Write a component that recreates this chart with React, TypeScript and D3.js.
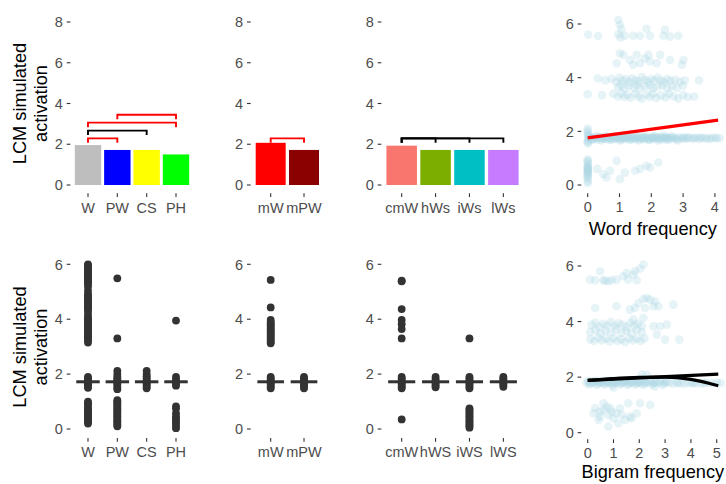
import React from 'react';
import * as d3 from 'd3';

// ---------------- DATA ----------------
// Top row: bar panels
const catsA = ['W', 'PW', 'CS', 'PH'];
const barsA = [1.96, 1.72, 1.72, 1.5];
const colorsA = ['#BEBEBE', '#0000FF', '#FFFF00', '#00FF00'];
const catsB = ['mW', 'mPW'];
const barsB = [2.07, 1.72];
const colorsB = ['#FF0000', '#8B0000'];
const catsC = ['cmW', 'hWs', 'iWs', 'lWs'];
const barsC = [1.93, 1.72, 1.72, 1.72];
const colorsC = ['#F8766D', '#7CAE00', '#00BFC4', '#C77CFF'];
const catsCBottom = ['cmW', 'hWS', 'iWS', 'lWS'];

// significance brackets: [from, to, height, colour]
const bracketsA: [string, string, number, string][] = [
  ['W', 'PW', 2.29, '#FF0000'],
  ['W', 'CS', 2.67, '#000000'],
  ['W', 'PH', 3.06, '#FF0000'],
  ['PW', 'PH', 3.45, '#FF0000'],
];
const bracketsB: [string, string, number, string][] = [['mW', 'mPW', 2.29, '#FF0000']];
const bracketsC: [string, string, number, string][] = [
  ['cmW', 'hWs', 2.29, '#000000'],
  ['cmW', 'iWs', 2.29, '#000000'],
  ['cmW', 'lWs', 2.29, '#000000'],
];

// Bottom row: strip panels (simulated activation per item)
const stripW = [6.0, 5.95, 5.9, 5.84, 5.78, 5.72, 5.66, 5.6, 5.55, 5.5, 5.45, 5.4, 5.35, 5.3, 5.2, 5.05, 4.92, 4.85, 4.8, 4.74, 4.68, 4.62, 4.56, 4.5, 4.45, 4.38, 4.32, 4.2, 4.08, 4.02, 3.96, 3.9, 3.85, 3.8, 3.74, 3.68, 3.62, 3.56, 3.5, 3.45, 3.4, 3.34, 3.28, 3.22, 3.15, 1.9, 1.84, 1.78, 1.72, 1.66, 1.6, 1.55, 1.5, 1.0, 0.94, 0.88, 0.8, 0.72, 0.66, 0.6, 0.55, 0.5, 0.44, 0.38, 0.32, 0.26, 0.2];
const stripPW = [5.49, 3.3, 2.12, 2.0, 1.9, 1.84, 1.78, 1.72, 1.66, 1.6, 1.52, 1.45, 1.05, 1.0, 0.94, 0.88, 0.82, 0.76, 0.7, 0.64, 0.58, 0.52, 0.46, 0.4, 0.34, 0.28, 0.22, 0.16, 0.1];
const stripCS = [2.12, 2.0, 1.92, 1.85, 1.78, 1.72, 1.66, 1.6, 1.54, 1.48];
const stripPH = [3.95, 1.9, 1.8, 1.72, 1.65, 1.58, 0.82, 0.75, 0.57, 0.45, 0.38, 0.3, 0.21, 0.12, 0.03];
const stripMW = [5.43, 4.43, 3.97, 3.9, 3.84, 3.78, 3.72, 3.66, 3.6, 3.54, 3.48, 3.42, 3.36, 3.3, 3.24, 3.18, 3.12, 1.9, 1.84, 1.78, 1.72, 1.66, 1.6, 1.54, 1.48];
const stripMPW = [1.9, 1.84, 1.78, 1.72, 1.66, 1.6, 1.54, 1.48];
const stripCMW = [5.4, 5.38, 4.37, 3.97, 3.82, 3.64, 3.3, 1.9, 1.84, 1.78, 1.72, 1.66, 1.6, 1.54, 1.48, 0.35];
const stripHWS = [1.9, 1.82, 1.75, 1.7, 1.64, 1.58, 1.52];
const stripIWS = [3.3, 1.9, 1.84, 1.78, 1.72, 1.66, 1.6, 1.54, 1.48, 0.75, 0.7, 0.64, 0.58, 0.52, 0.46, 0.4, 0.34, 0.28, 0.22, 0.16, 0.1, 0.05];
const stripLWS = [1.9, 1.84, 1.78, 1.72, 1.66, 1.6, 1.54];
const summaryA = [1.72, 1.72, 1.72, 1.72];
const summaryB = [1.72, 1.72];
const summaryC = [1.72, 1.72, 1.72, 1.72];

// Top-right: activation vs word frequency
const wordFreqPoints: [number, number][] = [
  // dense band
  [0.02, 1.72], [0.05, 1.8], [0.1, 1.75], [0.15, 1.7], [0.2, 1.78], [0.25, 1.74], [0.3, 1.7], [0.35, 1.8], [0.4, 1.76], [0.45, 1.72],
  [0.5, 1.79], [0.55, 1.74], [0.6, 1.7], [0.65, 1.78], [0.7, 1.75], [0.75, 1.71], [0.8, 1.8], [0.85, 1.76], [0.9, 1.72], [0.95, 1.78],
  [1.0, 1.74], [1.05, 1.7], [1.1, 1.79], [1.15, 1.75], [1.2, 1.72], [1.25, 1.8], [1.3, 1.76], [1.35, 1.71], [1.4, 1.78], [1.45, 1.74],
  [1.5, 1.7], [1.55, 1.79], [1.6, 1.75], [1.65, 1.72], [1.7, 1.8], [1.75, 1.76], [1.8, 1.71], [1.85, 1.78], [1.9, 1.74], [1.95, 1.7],
  [2.0, 1.79], [2.05, 1.75], [2.1, 1.72], [2.15, 1.8], [2.2, 1.76], [2.25, 1.71], [2.3, 1.78], [2.35, 1.74], [2.4, 1.7], [2.45, 1.79],
  [2.5, 1.75], [2.55, 1.72], [2.6, 1.8], [2.7, 1.74], [2.8, 1.71], [2.9, 1.78], [3.0, 1.74], [3.1, 1.72], [3.2, 1.77], [3.3, 1.73],
  [3.4, 1.76], [3.5, 1.72], [3.6, 1.75], [3.75, 1.73], [3.9, 1.76], [4.05, 1.73], [4.15, 1.75],
  [0.12, 1.68], [0.42, 1.66], [0.72, 1.68], [1.02, 1.66], [1.32, 1.68], [1.62, 1.66], [1.92, 1.68], [2.22, 1.66], [2.52, 1.68], [2.82, 1.66],
  [0.27, 1.82], [0.57, 1.83], [0.87, 1.82], [1.17, 1.83], [1.47, 1.82], [1.77, 1.83], [2.07, 1.82], [2.37, 1.83], [2.67, 1.8], [3.05, 1.78],
  [0.07, 1.76], [0.22, 1.73], [0.37, 1.77], [0.52, 1.73], [0.67, 1.76], [0.82, 1.73], [0.97, 1.76], [1.12, 1.73], [1.27, 1.77], [1.42, 1.73],
  [1.57, 1.76], [1.72, 1.73], [1.87, 1.76], [2.02, 1.73], [2.17, 1.77], [2.32, 1.73], [2.47, 1.76], [2.62, 1.73], [2.77, 1.76], [2.95, 1.73],
  [3.15, 1.76], [3.35, 1.74], [3.55, 1.77], [3.7, 1.75], [3.85, 1.72], [4.0, 1.76],
  // zero-frequency strip
  [0, 2.1], [0, 1.95], [0.01, 1.88], [0, 1.6], [0.01, 1.55], [0, 0.95], [0, 0.85], [0.01, 0.78], [0, 0.7], [0, 0.65],
  [0.01, 0.6], [0, 0.55], [0, 0.5], [0.01, 0.45], [0, 0.4], [0, 0.32], [0, 0.25], [0.01, 0.15], [0, 0.08],
  [0, 2.02], [0.01, 1.82], [0, 1.66], [0, 0.9], [0.01, 0.68], [0, 0.58], [0.01, 0.52], [0, 0.36],
  // low cluster
  [0.3, 0.6], [0.49, 0.4], [0.7, 0.53], [0.91, 0.9], [1.01, 0.22], [1.17, 0.46], [1.49, 0.53], [1.65, 0.6], [1.85, 0.72], [1.96, 0.65],
  [2.22, 0.84], [0.59, 0.28],
  // main upper cluster
  [0.32, 3.97], [0.55, 3.9], [0.75, 3.96], [0.9, 3.85], [1.0, 4.0], [1.1, 3.88], [1.2, 3.95], [1.3, 3.84], [1.4, 3.98], [1.5, 3.9],
  [1.6, 3.86], [1.7, 4.02], [1.8, 3.92], [1.9, 3.85], [2.0, 3.96], [2.1, 3.88], [2.2, 4.0], [2.3, 3.9], [2.4, 3.84], [2.5, 3.95],
  [2.6, 3.88], [2.75, 3.92], [2.9, 3.85], [3.05, 3.9], [3.5, 3.9],
  [0.95, 3.65], [1.05, 3.72], [1.15, 3.6], [1.3, 3.7], [1.45, 3.62], [1.55, 3.74], [1.65, 3.6], [1.8, 3.68], [1.95, 3.72], [2.05, 3.6],
  [2.2, 3.66], [2.35, 3.72], [2.5, 3.6], [2.65, 3.68], [2.8, 3.62], [3.0, 3.7],
  [0.0, 3.38], [0.45, 3.35], [0.8, 3.4], [0.95, 3.3], [1.05, 3.42], [1.15, 3.28], [1.25, 3.36], [1.35, 3.25], [1.5, 3.4], [1.6, 3.3],
  [1.7, 3.22], [1.85, 3.38], [1.95, 3.28], [2.05, 3.4], [2.15, 3.24], [2.3, 3.34], [2.45, 3.26], [2.55, 3.4], [2.7, 3.3], [2.85, 3.22],
  [3.0, 3.36], [3.15, 3.28], [3.35, 3.3],
  // 4.2 - 5 cluster
  [1.01, 4.91], [1.12, 4.85], [0.91, 4.54], [1.33, 4.66], [1.54, 4.85], [1.64, 4.54], [1.8, 4.72], [1.91, 4.85], [1.96, 4.6], [2.17, 4.54],
  [2.28, 4.85], [2.59, 4.66], [3.01, 4.66], [2.96, 4.48], [1.43, 4.48],
  // top cluster
  [0.02, 5.6], [0.33, 5.55], [0.96, 6.15], [1.01, 5.97], [1.06, 5.81], [0.96, 5.62], [1.17, 5.56], [1.43, 5.56], [1.64, 5.56], [1.85, 5.82],
  [1.96, 5.56], [2.43, 5.78], [2.38, 5.56], [2.59, 5.53], [2.85, 5.56], [1.03, 5.5],
];
const wordFit: [number, number][] = [[0, 1.76], [4.1, 2.42]];

// Bottom-right: activation vs bigram frequency
const bigramPoints: [number, number][] = [
  // dense band
  [-0.05, 1.8], [0.02, 1.86], [0.1, 1.78], [0.18, 1.84], [0.25, 1.8], [0.32, 1.88], [0.4, 1.78], [0.48, 1.84], [0.55, 1.8], [0.62, 1.87],
  [0.7, 1.77], [0.78, 1.83], [0.85, 1.8], [0.92, 1.88], [1.0, 1.78], [1.08, 1.84], [1.15, 1.8], [1.22, 1.87], [1.3, 1.77], [1.38, 1.83],
  [1.45, 1.8], [1.52, 1.88], [1.6, 1.78], [1.68, 1.84], [1.75, 1.8], [1.82, 1.87], [1.9, 1.77], [1.98, 1.83], [2.05, 1.8], [2.12, 1.88],
  [2.2, 1.78], [2.28, 1.84], [2.35, 1.8], [2.45, 1.86], [2.55, 1.78], [2.65, 1.83], [2.75, 1.8], [2.85, 1.86], [2.95, 1.78], [3.05, 1.84],
  [3.15, 1.8], [3.3, 1.76], [3.45, 1.82], [3.6, 1.78], [3.75, 1.76], [3.9, 1.8], [4.05, 1.77], [4.2, 1.78], [4.4, 1.76], [4.6, 1.8],
  [4.8, 1.78], [5.0, 1.8], [5.15, 1.79],
  [0.05, 1.74], [0.35, 1.72], [0.65, 1.74], [0.95, 1.72], [1.25, 1.74], [1.55, 1.72], [1.85, 1.74], [2.15, 1.72], [2.5, 1.74], [2.9, 1.72],
  [0.14, 1.81], [0.44, 1.8], [0.74, 1.82], [1.04, 1.8], [1.34, 1.82], [1.64, 1.8], [1.94, 1.82], [2.24, 1.8], [2.6, 1.82], [3.0, 1.8],
  [3.5, 1.79], [4.1, 1.81], [4.5, 1.79],
  [2.1, 2.1], [2.3, 2.08], [1.0, 1.62], [2.6, 1.66],
  // low cluster
  [0.29, 0.88], [0.48, 0.76], [0.61, 0.82], [0.74, 0.94], [0.93, 0.76], [0.48, 0.58], [0.8, 0.64], [1.12, 0.7], [1.32, 0.64], [1.57, 1.06],
  [1.64, 0.58], [1.7, 0.52], [1.9, 0.7], [2.03, 1.06], [2.42, 1.0], [0.8, 0.22], [1.19, 0.34], [1.45, 0.46], [0.42, 0.46], [1.0, 0.52],
  [0.61, 1.06], [1.25, 0.88], [0.22, 0.7], [0.87, 0.88],
  // main cluster
  [0.15, 3.88], [0.3, 3.96], [0.45, 3.82], [0.6, 3.92], [0.75, 3.86], [0.9, 3.98], [1.05, 3.84], [1.2, 3.94], [1.35, 3.88], [1.5, 3.8],
  [1.65, 3.96], [1.8, 3.86], [1.95, 3.92], [2.1, 3.84], [2.16, 4.13], [1.77, 4.07],
  [0.1, 3.62], [0.3, 3.7], [0.5, 3.58], [0.7, 3.68], [0.9, 3.6], [1.1, 3.72], [1.3, 3.6], [1.5, 3.66], [1.7, 3.58], [1.9, 3.7],
  [2.1, 3.62],
  [0.1, 3.36], [0.25, 3.3], [0.4, 3.42], [0.55, 3.32], [0.7, 3.38], [0.85, 3.28], [1.0, 3.4], [1.15, 3.3], [1.3, 3.36], [1.45, 3.26],
  [1.6, 3.4], [1.75, 3.32], [1.9, 3.38], [2.05, 3.3], [2.2, 3.4],
  [2.55, 3.83], [2.81, 3.83], [3.07, 3.89], [2.68, 3.53], [3.0, 3.35], [3.55, 3.35],
  // 4.3 - 4.9 cluster
  [0.29, 4.49], [1.12, 4.55], [1.83, 4.49], [1.96, 4.67], [2.16, 4.81], [2.29, 4.85], [2.42, 4.79], [2.61, 4.73], [2.74, 4.55], [3.32, 4.61],
  [1.64, 4.43], [2.22, 4.49], [2.55, 4.55],
  // top cluster
  [0.09, 5.51], [0.29, 5.49], [0.48, 5.81], [0.61, 5.49], [0.8, 5.45], [0.93, 5.49], [1.12, 5.51], [1.38, 5.63], [1.51, 5.75], [1.57, 5.51],
  [1.77, 5.69], [1.83, 5.81], [1.9, 5.49], [2.03, 5.9], [2.16, 6.05], [0.67, 5.47],
];
const bigramLinear: [number, number][] = [[0, 1.88], [5.06, 2.11]];
const bigramCurve: [number, number][] = [[0, 1.88], [1, 1.95], [2, 1.99], [3, 2.0], [4, 1.92], [5.06, 1.69]];

const barTicks = [0, 2, 4, 6, 8];
const sixTicks = [0, 2, 4, 6];
const wordTicks = [0, 1, 2, 3, 4];
const bigramTicks = [0, 1, 2, 3, 4, 5];

// ---------------- LAYOUT ----------------
const FONT = '"Liberation Sans", Arial, Helvetica, sans-serif';
const TXT = '#4D4D4D';
const TICKC = '#333333';
const TL = 3.7;
const TICK_FS = 14.5;
const TITLE_FS = 18.2;

const colA: [number, number] = [70.4, 193.6];
const colB: [number, number] = [250.7, 324];
const colC: [number, number] = [381.35, 523.7];
const colD: [number, number] = [581.3, 721.4];

const yBar = d3.scaleLinear().domain([0, 8]).range([185, 22]);
const yTopRight = d3.scaleLinear().domain([0, 6]).range([185, 24]);
const xWord = d3.scaleLinear().domain([0, 4]).range([587.7, 714.9]);
const yStrip = d3.scaleLinear().domain([0, 6]).range([429, 264.3]);
const yBotRight = d3.scaleLinear().domain([0, 6]).range([432.7, 266]);
const xBigram = d3.scaleLinear().domain([0, 5]).range([587.7, 716.7]);

function YAxis({ scale, ticks, left }: { scale: any; ticks: number[]; left: number }) {
  return (
    <g>
      {ticks.map((t) => (
        <g key={t}>
          <line x1={left - TL} x2={left} y1={scale(t)} y2={scale(t)} stroke={TICKC} strokeWidth={1.1} />
          <text x={left - 7.5} y={scale(t)} dy="0.36em" textAnchor="end" fontSize={TICK_FS} fill={TXT} fontFamily={FONT}>
            {t}
          </text>
        </g>
      ))}
    </g>
  );
}

function XTicks({ positions, labels, bottom, baseline }: { positions: number[]; labels: string[]; bottom: number; baseline: number }) {
  return (
    <g>
      {positions.map((p, i) => (
        <g key={i}>
          <line x1={p} x2={p} y1={bottom} y2={bottom + TL} stroke={TICKC} strokeWidth={1.1} />
          <text x={p} y={baseline} textAnchor="middle" fontSize={TICK_FS} fill={TXT} fontFamily={FONT}>
            {labels[i]}
          </text>
        </g>
      ))}
    </g>
  );
}

function BarPanel({ cats, vals, cols, brackets, range }: any) {
  const x = d3.scalePoint<string>().domain(cats).range(range).padding(0.6);
  const step = x.step();
  const bw = step * 0.9;
  const tip = 0.22;
  return (
    <g>
      <YAxis scale={yBar} ticks={barTicks} left={range[0]} />
      {cats.map((c: string, i: number) => (
        <rect key={c} x={(x(c) as number) - bw / 2} y={yBar(vals[i])} width={bw} height={yBar(0) - yBar(vals[i])} fill={cols[i]} />
      ))}
      {brackets.map((b: [string, string, number, string], i: number) => {
        const x1 = x(b[0]) as number;
        const x2 = x(b[1]) as number;
        const path = d3.path();
        path.moveTo(x1, yBar(b[2] - tip));
        path.lineTo(x1, yBar(b[2]));
        path.lineTo(x2, yBar(b[2]));
        path.lineTo(x2, yBar(b[2] - tip));
        return <path key={i} d={path.toString()} fill="none" stroke={b[3]} strokeWidth={1.9} />;
      })}
      <XTicks positions={cats.map((c: string) => x(c) as number)} labels={cats} bottom={193.3} baseline={213} />
    </g>
  );
}

function StripPanel({ cats, groups, summary, range }: any) {
  const x = d3.scalePoint<string>().domain(cats).range(range).padding(0.6);
  const step = x.step();
  const cw = step * 0.8;
  return (
    <g>
      <YAxis scale={yStrip} ticks={sixTicks} left={range[0]} />
      {cats.map((c: string, i: number) => (
        <g key={c}>
          {groups[i].map((v: number, j: number) => (
            <circle key={j} cx={x(c) as number} cy={yStrip(v)} r={3.9} fill="#333333" />
          ))}
          <line x1={(x(c) as number) - cw / 2} x2={(x(c) as number) + cw / 2} y1={yStrip(summary[i])} y2={yStrip(summary[i])} stroke="#333333" strokeWidth={3} />
        </g>
      ))}
      <XTicks positions={cats.map((c: string) => x(c) as number)} labels={cats} bottom={438} baseline={456.5} />
    </g>
  );
}

function ScatterPanel({ pts, xs, ys, lines, xticks, bottom, tickBaseline, title, titleBaseline }: any) {
  const line = d3.line<[number, number]>().x((d) => xs(d[0])).y((d) => ys(d[1])).curve(d3.curveMonotoneX);
  return (
    <g>
      <YAxis scale={ys} ticks={sixTicks} left={colD[0]} />
      {pts.map((p: [number, number], i: number) => (
        <circle key={i} cx={xs(p[0])} cy={ys(p[1])} r={4.3} fill="#ADD8E6" fillOpacity={0.3} />
      ))}
      {lines.map((l: any, i: number) => (
        <path key={i} d={line(l.data) as string} fill="none" stroke={l.color} strokeWidth={3.3} />
      ))}
      <XTicks positions={xticks.map((t: number) => xs(t))} labels={xticks.map(String)} bottom={bottom} baseline={tickBaseline} />
      <text x={(colD[0] + colD[1]) / 2 + 1.5} y={titleBaseline} textAnchor="middle" fontSize={TITLE_FS} fill="#000" fontFamily={FONT}>
        {title}
      </text>
    </g>
  );
}

function YTitle({ cy }: { cy: number }) {
  return (
    <g fontFamily={FONT} fontSize={TITLE_FS} fill="#000" textAnchor="middle">
      <text transform={`translate(26,${cy}) rotate(-90)`}>LCM simulated</text>
      <text transform={`translate(47,${cy}) rotate(-90)`}>activation</text>
    </g>
  );
}

export default function App() {
  return (
    <svg width={726} height={484} style={{ position: 'absolute', left: 0, top: 0, background: '#fff' }}>
      <rect width={726} height={484} fill="#fff" />
      <YTitle cy={103.5} />
      <YTitle cy={347} />
      <BarPanel cats={catsA} vals={barsA} cols={colorsA} brackets={bracketsA} range={colA} />
      <BarPanel cats={catsB} vals={barsB} cols={colorsB} brackets={bracketsB} range={colB} />
      <BarPanel cats={catsC} vals={barsC} cols={colorsC} brackets={bracketsC} range={colC} />
      <ScatterPanel
        pts={wordFreqPoints}
        xs={xWord}
        ys={yTopRight}
        lines={[{ data: wordFit, color: '#FF0000' }]}
        xticks={wordTicks}
        bottom={193.3}
        tickBaseline={211.5}
        title="Word frequency"
        titleBaseline={235}
      />
      <StripPanel cats={catsA} groups={[stripW, stripPW, stripCS, stripPH]} summary={summaryA} range={colA} />
      <StripPanel cats={catsB} groups={[stripMW, stripMPW]} summary={summaryB} range={colB} />
      <StripPanel cats={catsCBottom} groups={[stripCMW, stripHWS, stripIWS, stripLWS]} summary={summaryC} range={colC} />
      <ScatterPanel
        pts={bigramPoints}
        xs={xBigram}
        ys={yBotRight}
        lines={[
          { data: bigramLinear, color: '#000000' },
          { data: bigramCurve, color: '#000000' },
        ]}
        xticks={bigramTicks}
        bottom={439.3}
        tickBaseline={457.5}
        title="Bigram frequency"
        titleBaseline={478.3}
      />
    </svg>
  );
}
